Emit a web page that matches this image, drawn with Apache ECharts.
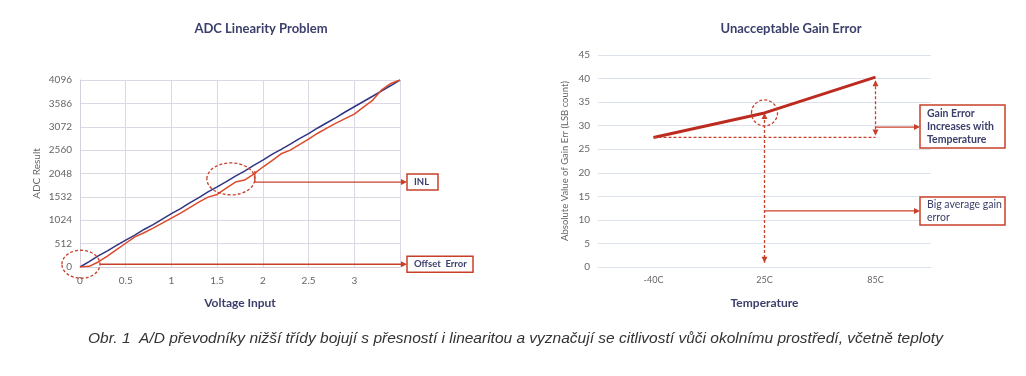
<!DOCTYPE html>
<html>
<head>
<meta charset="utf-8">
<script src="https://cdn.jsdelivr.net/npm/echarts@6/dist/echarts.min.js"></script>
<style>
  html, body { margin: 0; padding: 0; background: #fff; }
  #chart { width: 1026px; height: 376px; }
</style>
</head>
<body>
<div id="chart"></div>
<script>
const chart = echarts.init(document.getElementById("chart"));

// ADC linearity (left)
const VOLT = [0, 0.1, 0.2, 0.3, 0.4, 0.5, 0.6, 0.7, 0.8, 0.9, 1.0, 1.1, 1.2, 1.3, 1.4, 1.5, 1.6, 1.7,
	1.8, 1.9, 2.0, 2.1, 2.2, 2.3, 2.4, 2.5, 2.6, 2.7, 2.8, 2.9, 3.0, 3.1, 3.2, 3.3, 3.4, 3.5];
const IDEAL = [0, 117, 245, 355, 475, 590, 700, 822, 930, 1050, 1170, 1280, 1405, 1520, 1645, 1755, 1870, 1990,
	2100, 2225, 2340, 2465, 2575, 2690, 2810, 2920, 3045, 3160, 3270, 3395, 3510, 3625, 3740, 3860, 3975, 4096];
const ACTUAL = [0, 15, 110, 240, 380, 520, 660, 750, 850, 960, 1070, 1180, 1300, 1420, 1530, 1590, 1730, 1860,
	1905, 2035, 2190, 2330, 2480, 2560, 2680, 2800, 2930, 3040, 3150, 3250, 3350, 3500, 3650, 3880, 4020, 4096];
const ADC_TICKS = ["0", "512", "1024", "1532", "2048", "2560", "3072", "3586", "4096"];

// Gain error (right)
const TEMPS = ["-40C", "25C", "85C"];
const GAIN = [27.5, 32.7, 40.3];

const NAVY = "#3b3f6b";
const RED = "#c8402a";
const FONT = "Lato";

option = {
	textStyle: { fontFamily: FONT },
	title: [{
		text: "ADC Linearity Problem",
		left: 256, top: 17, textAlign: "center",
		textStyle: { fontSize: 13, fontWeight: "bold", color: NAVY, fontFamily: FONT }
	}, {
		text: "Unacceptable Gain Error",
		left: 786, top: 17, textAlign: "center",
		textStyle: { fontSize: 13, fontWeight: "bold", color: NAVY, fontFamily: FONT }
	}, {
		text: "Obr. 1  A/D převodníky nižší třídy bojují s přesností i linearitou a vyznačují se citlivostí vůči okolnímu prostředí, včetně teploty",
		left: 83, top: 326,
		textStyle: { fontSize: 15.5, fontWeight: "normal", fontStyle: "italic", color: "#333", fontFamily: "Liberation Sans" }
	}],
	grid: [
		{ left: 80, right: 626, top: 80, bottom: 109 },
		{ left: 598, right: 95, top: 55, bottom: 109 }
	],
	xAxis: [{
		gridIndex: 0,
		type: "value",
		min: 0, max: 3.5, interval: 0.5,
		name: "Voltage Input",
		nameLocation: "middle", nameGap: 30,
		nameTextStyle: { fontSize: 12, fontWeight: "bold", color: NAVY },
		axisLine: { lineStyle: { color: "#d6d0dc" } },
		axisTick: { show: false },
		axisLabel: { color: "#666", fontSize: 10, margin: 9, showMaxLabel: false },
		splitLine: { show: true, lineStyle: { color: "#ddd7e3" } }
	}, {
		gridIndex: 1,
		type: "category",
		data: TEMPS,
		name: "Temperature",
		nameLocation: "middle", nameGap: 30,
		nameTextStyle: { fontSize: 12, fontWeight: "bold", color: NAVY },
		axisLine: { lineStyle: { color: "#dde3ec" } },
		axisTick: { show: false },
		axisLabel: { color: "#666", fontSize: 9, margin: 9 }
	}],
	yAxis: [{
		gridIndex: 0,
		type: "value",
		min: 0, max: 4096, interval: 512,
		name: "ADC Result",
		nameLocation: "middle", nameGap: 38,
		nameTextStyle: { fontSize: 10, color: "#666" },
		axisLine: { show: true, lineStyle: { color: "#d6d0dc" } },
		axisTick: { show: false },
		axisLabel: { color: "#666", fontSize: 10, formatter: v => ADC_TICKS[Math.round(v / 512)] },
		splitLine: { lineStyle: { color: "#ddd7e3" } }
	}, {
		gridIndex: 1,
		type: "value",
		min: 0, max: 45, interval: 5,
		name: "Absolute Value of Gain Err (LSB count)",
		nameLocation: "middle", nameGap: 28,
		nameTextStyle: { fontSize: 9.5, color: "#666" },
		axisLine: { show: false },
		axisTick: { show: false },
		axisLabel: { color: "#666", fontSize: 10 },
		splitLine: { lineStyle: { color: "#dde3ec" } }
	}],
	series: [{
		name: "Ideal",
		type: "line",
		xAxisIndex: 0, yAxisIndex: 0,
		data: VOLT.map((v, i) => [v, IDEAL[i]]),
		showSymbol: false,
		lineStyle: { color: "#2f3582", width: 1.5 },
		z: 3
	}, {
		name: "Actual",
		type: "line",
		xAxisIndex: 0, yAxisIndex: 0,
		data: VOLT.map((v, i) => [v, ACTUAL[i]]),
		showSymbol: false,
		lineStyle: { color: "#dc4a2a", width: 1.5 },
		z: 4
	}, {
		name: "Gain",
		type: "line",
		xAxisIndex: 1, yAxisIndex: 1,
		data: GAIN,
		showSymbol: false,
		lineStyle: { color: "#bd2a20", width: 3 }
	}]
};

chart.setOption(option);

// annotations anchored to data coordinates
const L = p => chart.convertToPixel({ gridIndex: 0 }, p);
const R = p => chart.convertToPixel({ gridIndex: 1 }, p);
const els = [];

function line(x1, y1, x2, y2, dashed) {
	els.push({
		type: "line", z: 10,
		shape: { x1, y1, x2, y2 },
		style: { stroke: RED, lineWidth: 1.3, lineDash: dashed ? [3, 2] : null }
	});
}
function head(x, y, dx, dy) {
	const len = Math.hypot(dx, dy), ux = dx / len, uy = dy / len;
	const bx = x - ux * 6, by = y - uy * 6;
	els.push({
		type: "polygon", z: 11,
		shape: { points: [[x, y], [bx - uy * 3, by + ux * 3], [bx + uy * 3, by - ux * 3]] },
		style: { fill: RED }
	});
}
function ellipse(cx, cy, rx, ry) {
	els.push({
		type: "ellipse", z: 10,
		shape: { cx, cy, rx, ry },
		style: { stroke: RED, fill: null, lineWidth: 1.3, lineDash: [3, 2] }
	});
}
function box(x, y, w, h, text, weight, size) {
	els.push({
		type: "rect", z: 10,
		shape: { x, y, width: w, height: h },
		style: { stroke: RED, fill: "#fff", lineWidth: 1.5 }
	});
	els.push({
		type: "text", z: 12, x: x + 7, y: y + h / 2,
		style: { text, fill: NAVY, font: weight + " " + size + "px " + FONT, verticalAlign: "middle", lineHeight: 13 }
	});
}

// left chart
const edgeL = L([3.5, 0])[0];
const o = L([0.01, 60]);
ellipse(o[0], o[1], 19, 14);
line(o[0] + 19, o[1], edgeL + 4, o[1]);
head(edgeL + 7, o[1], 1, 0);
box(edgeL + 7, o[1] - 8, 66, 16, "Offset  Error", "bold", 9.5);

const inl = L([1.65, 1930]);
ellipse(inl[0], inl[1], 24, 16);
const inlY = L([0, 1860])[1];
line(inl[0] + 24, inlY - 11, inl[0] + 24, inlY);
line(inl[0] + 24, inlY, edgeL + 4, inlY);
head(edgeL + 7, inlY, 1, 0);
box(edgeL + 7, inlY - 8, 31, 16, "INL", "bold", 9.5);

// right chart
const p0 = R([TEMPS[0], GAIN[0]]);
const p2 = R([TEMPS[2], GAIN[2]]);
line(p0[0], p0[1], p2[0], p0[1], true);
line(p2[0], p2[1] + 4, p2[0], p0[1] - 2, true);
head(p2[0], p2[1] + 3, 0, -1);
head(p2[0], p0[1] - 2, 0, 1);
const boxX = 920;
const gy = R([TEMPS[2], 29.7])[1];
line(p2[0], gy, boxX - 4, gy);
head(boxX, gy, 1, 0);
box(boxX, gy - 22, 85, 43, "Gain Error\nIncreases with\nTemperature", "bold", 10.5);

const c = R([TEMPS[1], GAIN[1]]);
ellipse(c[0], c[1], 13, 13);
const bottom = R([TEMPS[1], 0.9])[1];
line(c[0], c[1] + 2, c[0], bottom, true);
head(c[0], c[1], 0, -1);
head(c[0], bottom, 0, 1);
const by = R([TEMPS[1], 11.9])[1];
line(c[0], by, boxX - 4, by);
head(boxX, by, 1, 0);
box(boxX, by - 14, 85, 28, "Big average gain\nerror", "normal", 10.5);

chart.setOption({ graphic: { elements: els } });
window.onresize = chart.resize;
</script>
</body>
</html>
